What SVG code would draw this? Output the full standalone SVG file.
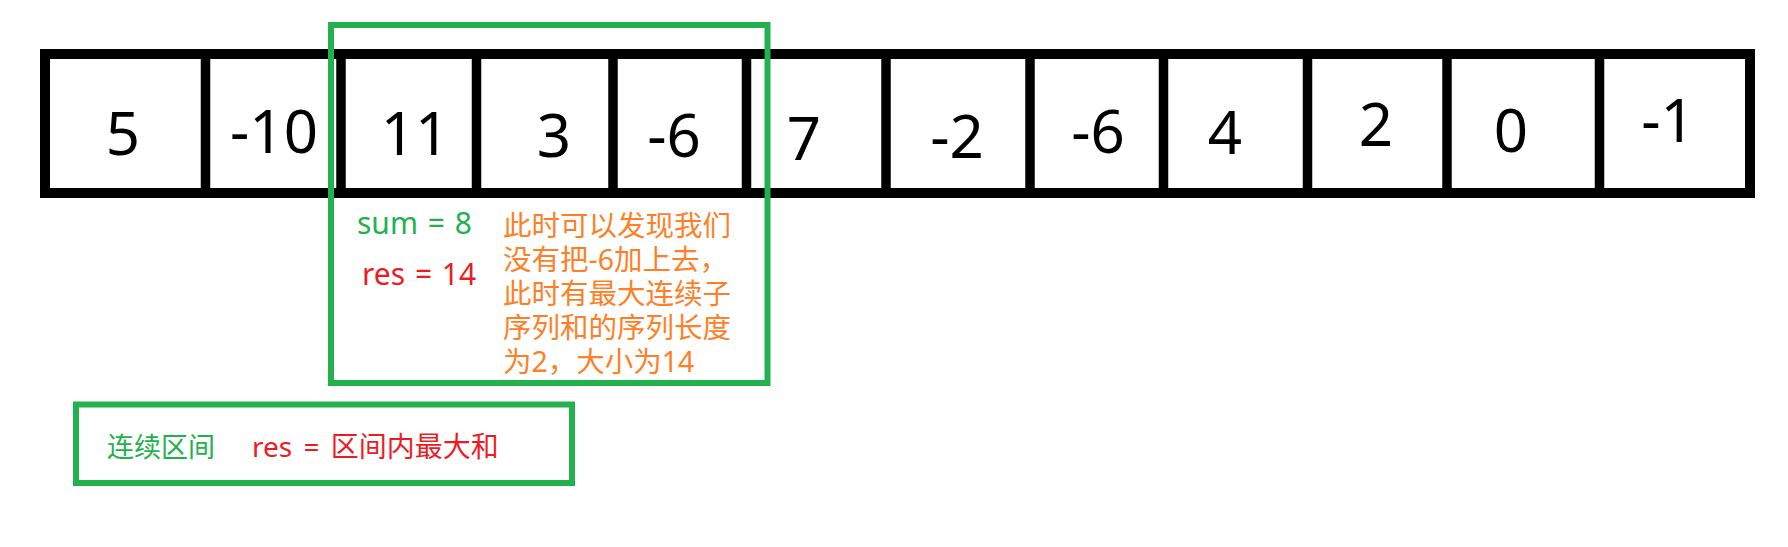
<svg xmlns="http://www.w3.org/2000/svg" width="1788" height="547" viewBox="0 0 1788 547">
<style>
.num{font-family:"Noto Sans","Liberation Sans",sans-serif;font-size:60px;fill:#000;text-anchor:middle}
.div{stroke:#000;stroke-width:9.5}
.lbl{font-family:"Noto Sans","Noto Sans CJK SC",sans-serif}
.g{fill:#22b14c}.r{fill:#ed1c24}.o{fill:#ff7f27}
.frame{fill:none;stroke:#22b14c;stroke-width:6}
</style>
<rect width="1788" height="547" fill="#fff"/>
<g id="array">
<rect x="45" y="54" width="1705" height="139" fill="#fff" stroke="#000" stroke-width="10"/>
<line class="div" x1="205.5" y1="54" x2="205.5" y2="193"/>
<line class="div" x1="341" y1="54" x2="341" y2="193"/>
<line class="div" x1="476.5" y1="54" x2="476.5" y2="193"/>
<line class="div" x1="613" y1="54" x2="613" y2="193"/>
<line class="div" x1="746.5" y1="54" x2="746.5" y2="193"/>
<line class="div" x1="886" y1="54" x2="886" y2="193"/>
<line class="div" x1="1030" y1="54" x2="1030" y2="193"/>
<line class="div" x1="1163.5" y1="54" x2="1163.5" y2="193"/>
<line class="div" x1="1307.5" y1="54" x2="1307.5" y2="193"/>
<line class="div" x1="1447" y1="54" x2="1447" y2="193"/>
<line class="div" x1="1599.5" y1="54" x2="1599.5" y2="193"/>
</g>
<g id="cell-0"><text class="num" x="123" y="155">5</text></g>
<g id="cell-1"><text class="num" x="274" y="153">-10</text></g>
<g id="cell-2"><text class="num" x="415" y="155">11</text></g>
<g id="cell-3"><text class="num" x="554" y="157">3</text></g>
<g id="cell-4"><text class="num" x="674" y="157">-6</text></g>
<g id="cell-5"><text class="num" x="804" y="160">7</text></g>
<g id="cell-6"><text class="num" x="957" y="158">-2</text></g>
<g id="cell-7"><text class="num" x="1098" y="153">-6</text></g>
<g id="cell-8"><text class="num" x="1225" y="154">4</text></g>
<g id="cell-9"><text class="num" x="1376" y="146">2</text></g>
<g id="cell-10"><text class="num" x="1511" y="152">0</text></g>
<g id="cell-11"><text class="num" x="1668" y="142">-1</text></g>
<g id="window">
<rect class="frame" x="331" y="25" width="436.5" height="358"/>
<text class="lbl g" x="357" y="234" font-size="30" word-spacing="2">sum = 8</text>
<text class="lbl r" x="362" y="285" font-size="30" word-spacing="2">res = 14</text>
<text class="lbl o" font-size="28.5" x="503">
<tspan x="503" y="236">此时可以发现我们</tspan>
<tspan x="503" y="270">没有把-6加上去，</tspan>
<tspan x="503" y="304">此时有最大连续子</tspan>
<tspan x="503" y="338">序列和的序列长度</tspan>
<tspan x="503" y="372">为2，大小为14</tspan>
</text>
</g>
<g id="legend">
<rect class="frame" x="76" y="404.5" width="496" height="78.5"/>
<text class="lbl g" x="107" y="457" font-size="27">连续区间</text>
<text class="lbl r" x="252" y="457" font-size="28" word-spacing="4">res = 区间内最大和</text>
</g>
<g id="connectors"/>
</svg>
